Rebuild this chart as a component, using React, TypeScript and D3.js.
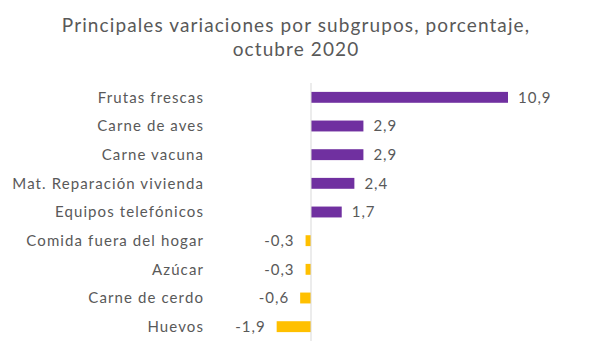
import React from "react";
import * as d3 from "d3";

const categories = [
  "Frutas frescas",
  "Carne de aves",
  "Carne vacuna",
  "Mat. Reparación vivienda",
  "Equipos telefónicos",
  "Comida fuera del hogar",
  "Azúcar",
  "Carne de cerdo",
  "Huevos",
];
const values = [10.9, 2.9, 2.9, 2.4, 1.7, -0.3, -0.3, -0.6, -1.9];
const titleLines = ["Principales variaciones por subgrupos, porcentaje,", "octubre 2020"];

const W = 600;
const H = 360;
const FONT = "Lato, 'Open Sans', sans-serif";
const TEXT = "#595959";

export default function App() {
  const x = d3.scaleLinear().domain([0, 10.9]).range([311, 508]);
  const y = d3.scaleBand<string>().domain(categories).range([83, 341]).paddingInner(0.62).paddingOuter(0.31);
  const fmt = (v: number) => d3.format(".1f")(v).replace(".", ",").replace("−", "-");
  return (
    <svg width={W} height={H} style={{ position: "absolute", left: 0, top: 0, background: "#fff" }}>
      {titleLines.map((t, i) => (
        <text key={i} x={W / 2 - 4} y={32 + i * 24} textAnchor="middle" fontFamily={FONT} fontSize={19} letterSpacing={1.1} fill={TEXT}>
          {t}
        </text>
      ))}
      {categories.map((c, i) => {
        const v = values[i];
        const yy = y(c)!;
        const bh = y.bandwidth();
        const x0 = Math.min(x(0), x(v));
        const w = Math.abs(x(v) - x(0));
        const cy = yy + bh / 2;
        return (
          <g key={c}>
            <text x={204} y={cy} dy="0.35em" textAnchor="end" fontFamily={FONT} fontSize={15} letterSpacing={1.1} fill={TEXT}>
              {c}
            </text>
            <rect x={x0} y={yy} width={w} height={bh} fill={v >= 0 ? "#7030A0" : "#FFC000"} />
            <text
              x={v >= 0 ? x(v) + 10 : x(v) - 11}
              y={cy}
              dy="0.35em"
              textAnchor={v >= 0 ? "start" : "end"}
              fontFamily={FONT}
              fontSize={15}
              letterSpacing={1}
              fill={TEXT}
            >
              {fmt(v)}
            </text>
          </g>
        );
      })}
      <line x1={x(0)} x2={x(0)} y1={83} y2={341} stroke="#D9D9D9" strokeWidth={1} />
    </svg>
  );
}
